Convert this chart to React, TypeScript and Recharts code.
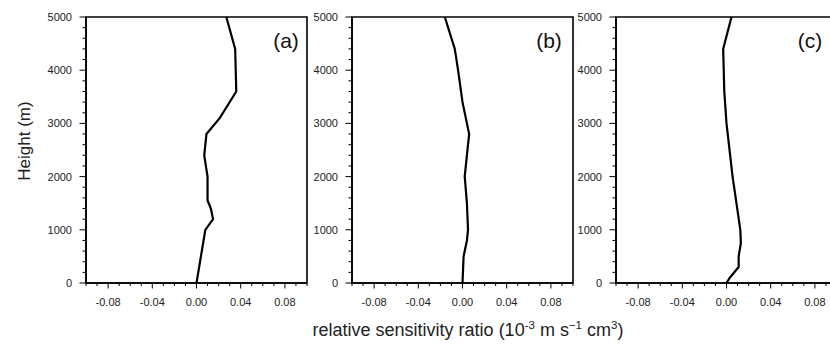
import React from "react";
import { LineChart, Line, XAxis, YAxis, ReferenceArea } from "recharts";

// ---- data (height in m, relative sensitivity ratio) ----
const heightsA = [0, 500, 1000, 1200, 1400, 1550, 2000, 2400, 2800, 3100, 3600, 4400, 5000];
const valuesA = [0.0, 0.004, 0.008, 0.015, 0.013, 0.010, 0.010, 0.007, 0.009, 0.021, 0.036, 0.035, 0.027];

const heightsB = [0, 500, 800, 1000, 1500, 2000, 2400, 2800, 3400, 4000, 4400, 5000];
const valuesB = [0.0, 0.001, 0.004, 0.005, 0.004, 0.002, 0.004, 0.006, 0.0, -0.004, -0.007, -0.016];

const heightsC = [0, 100, 300, 500, 750, 1000, 1500, 2000, 3000, 3600, 4400, 5000];
const valuesC = [0.0, 0.003, 0.011, 0.011, 0.013, 0.0125, 0.009, 0.0055, 0.0, -0.002, -0.003, 0.0045];

const panelLabels = ["(a)", "(b)", "(c)"];

// ---- ticks ----
const yTicks = [0, 200, 400, 600, 800, 1000, 1200, 1400, 1600, 1800, 2000, 2200, 2400, 2600, 2800, 3000,
  3200, 3400, 3600, 3800, 4000, 4200, 4400, 4600, 4800, 5000];
const yMajor = [0, 1000, 2000, 3000, 4000, 5000];
const xTicks = [-0.1, -0.09, -0.08, -0.07, -0.06, -0.05, -0.04, -0.03, -0.02, -0.01, 0,
  0.01, 0.02, 0.03, 0.04, 0.05, 0.06, 0.07, 0.08, 0.09, 0.1];
const xMajor = [-0.08, -0.04, 0, 0.04, 0.08];
const xMajorLabels = ["-0.08", "-0.04", "0.00", "0.04", "0.08"];

const FONT = "'Liberation Sans', Arial, Helvetica, sans-serif";

const YTick = (props: any) => {
  const { x, y, payload } = props;
  const major = yMajor.indexOf(payload.value) >= 0;
  return (
    <g>
      <line x1={x} x2={x - (major ? 6.5 : 3.5)} y1={y} y2={y} stroke="#000" strokeWidth={1} />
      {major && (
        <text x={x - 14} y={y} dy={4} textAnchor="end" fontSize={11} fontFamily={FONT} fill="#222">
          {payload.value}
        </text>
      )}
    </g>
  );
};

const XTick = (props: any) => {
  const { x, y, payload } = props;
  const idx = xMajor.findIndex((m) => Math.abs(m - payload.value) < 1e-9);
  const major = idx >= 0;
  return (
    <g>
      <line x1={x} x2={x} y1={y} y2={y + (major ? 5.5 : 3)} stroke="#000" strokeWidth={1} />
      {major && (
        <text x={x} y={y} dy={23} textAnchor="middle" fontSize={11} fontFamily={FONT} fill="#222">
          {xMajorLabels[idx]}
        </text>
      )}
    </g>
  );
};

const makeData = (hs: number[], vs: number[]) => hs.map((h, i) => ({ h, v: vs[i] }));

const panels = [
  { data: makeData(heightsA, valuesA), left: 36 },
  { data: makeData(heightsB, valuesB), left: 302 },
  { data: makeData(heightsC, valuesC), left: 566 },
];
const labelPos = [286, 549, 810];

const Panel = ({ data }: { data: { h: number; v: number }[] }) => (
  <LineChart
    width={274}
    height={313}
    data={data}
    layout="vertical"
    margin={{ top: 17, right: 3, left: 0, bottom: 0 }}
  >
    <XAxis
      type="number"
      domain={[-0.1, 0.1]}
      ticks={xTicks}
      interval={0}
      tick={<XTick />}
      tickLine={false}
      tickSize={0}
      tickMargin={0}
      height={30}
      axisLine={{ stroke: "#000", strokeWidth: 1.6 }}
      allowDataOverflow
    />
    <YAxis
      dataKey="h"
      type="number"
      domain={[0, 5000]}
      reversed
      ticks={yTicks}
      interval={0}
      tick={<YTick />}
      tickLine={false}
      tickSize={0}
      tickMargin={0}
      width={50}
      axisLine={{ stroke: "#000", strokeWidth: 1.6 }}
    />
    <ReferenceArea
      x1={-0.1}
      x2={0.1}
      y1={0}
      y2={5000}
      fill="none"
      fillOpacity={0}
      stroke="#000"
      strokeWidth={1.6}
      ifOverflow="visible"
    />
    <Line
      dataKey="v"
      stroke="#000"
      strokeWidth={2.2}
      dot={false}
      isAnimationActive={false}
      strokeLinejoin="round"
    />
  </LineChart>
);

export default function App() {
  return (
    <div
      style={{
        position: "absolute",
        left: 0,
        top: 0,
        width: 830,
        height: 349,
        overflow: "hidden",
        background: "#fff",
        fontFamily: FONT,
      }}
    >
      {panels.map((p, i) => (
        <div key={i} style={{ position: "absolute", left: p.left, top: 0 }}>
          <Panel data={p.data} />
        </div>
      ))}
      <svg
        width={830}
        height={349}
        style={{ position: "absolute", left: 0, top: 0, pointerEvents: "none" }}
      >
        {panelLabels.map((t, i) => (
          <text key={t} x={labelPos[i]} y={48} textAnchor="middle" fontSize={21} fontFamily={FONT} fill="#111">
            {t}
          </text>
        ))}
        <text
          x={30}
          y={141}
          transform="rotate(-90, 30, 141)"
          textAnchor="middle"
          fontSize={17}
          fontFamily={FONT}
          fill="#222"
        >
          Height (m)
        </text>
        <text x={468} y={336} textAnchor="middle" fontSize={18} fontFamily={FONT} fill="#222">
          relative sensitivity ratio (10
          <tspan fontSize={11.5} dy={-7}>-3</tspan>
          <tspan dy={7}> m s</tspan>
          <tspan fontSize={11.5} dy={-7}>−1</tspan>
          <tspan dy={7}> cm</tspan>
          <tspan fontSize={11.5} dy={-7}>3</tspan>
          <tspan dy={7}>)</tspan>
        </text>
      </svg>
    </div>
  );
}
